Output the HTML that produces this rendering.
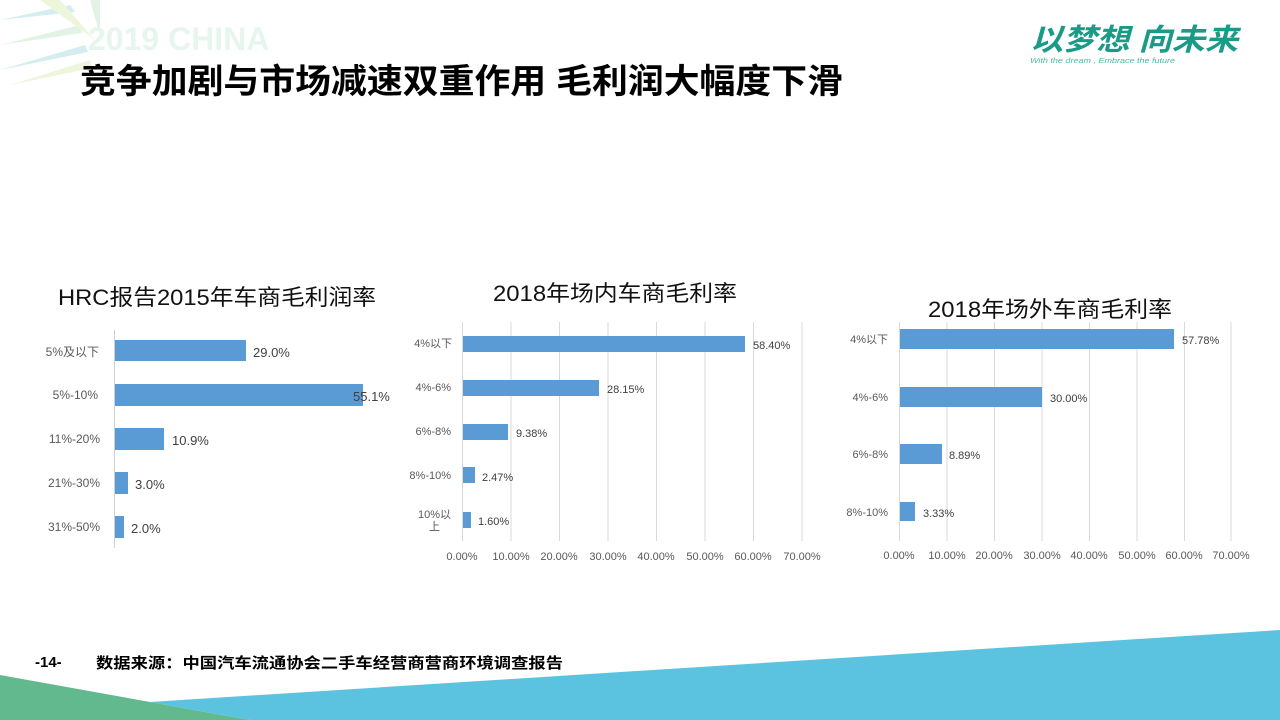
<!DOCTYPE html>
<html><head><meta charset="utf-8"><style>
html,body{margin:0;padding:0;background:#fff;}
svg{display:block;font-family:"Liberation Sans","Noto Sans CJK SC",sans-serif;}
</style></head><body>
<svg width="1280" height="720" viewBox="0 0 1280 720" xmlns="http://www.w3.org/2000/svg">
<g opacity="0.45">
<polygon points="0,20 70,5 75,12" fill="#9fd8e0"/>
<polygon points="0,45 80,25 82,33" fill="#bfe6c8"/>
<polygon points="0,70 85,45 88,52" fill="#9fd8e0"/>
<polygon points="10,85 90,60 92,68" fill="#d8ecb0"/>
<polygon points="40,0 60,0 95,40" fill="#d8ecb0"/>
<polygon points="90,0 100,0 100,35" fill="#bfe6c8"/>
</g>
<text x="88" y="50" font-size="32" font-weight="bold" fill="#e6f6ee">2019 CHINA</text>
<text x="80" y="93" font-size="34" font-weight="bold" fill="#000" textLength="763" lengthAdjust="spacingAndGlyphs">竞争加剧与市场减速双重作用 毛利润大幅度下滑</text>
<text x="1030" y="50" font-size="30" font-weight="bold" font-style="italic" fill="#1a9b88" textLength="208" lengthAdjust="spacingAndGlyphs">以梦想 向未来</text>
<text x="1030" y="63" font-size="7" font-style="italic" fill="#4cb8a0" textLength="145" lengthAdjust="spacingAndGlyphs">With the dream , Embrace the future</text>

<!-- Chart 1 -->
<text x="58" y="305" font-size="22" fill="#111" textLength="318" lengthAdjust="spacingAndGlyphs">HRC报告2015年车商毛利润率</text>
<line x1="114.5" y1="330" x2="114.5" y2="548" stroke="#d0d0d0"/>
<g fill="#5b9bd5">
<rect x="115" y="340" width="131" height="21"/>
<rect x="115" y="384" width="248" height="22"/>
<rect x="115" y="428" width="49" height="22"/>
<rect x="115" y="472" width="13" height="22"/>
<rect x="115" y="516" width="9" height="22"/>
</g>
<g font-size="12" fill="#595959" text-anchor="end">
<text x="99" y="356">5%及以下</text>
<text x="98" y="399">5%-10%</text>
<text x="100" y="443">11%-20%</text>
<text x="100" y="487">21%-30%</text>
<text x="100" y="531">31%-50%</text>
</g>
<g font-size="13" fill="#404040">
<text x="253" y="357">29.0%</text>
<text x="353" y="401">55.1%</text>
<text x="172" y="445">10.9%</text>
<text x="135" y="489">3.0%</text>
<text x="131" y="533">2.0%</text>
</g>

<!-- Chart 2 -->
<text x="493" y="301" font-size="22" fill="#111" textLength="244" lengthAdjust="spacingAndGlyphs">2018年场内车商毛利率</text>
<g stroke="#d9d9d9">
<line x1="462.5" y1="322" x2="462.5" y2="541"/>
<line x1="511" y1="322" x2="511" y2="541"/>
<line x1="559.5" y1="322" x2="559.5" y2="541"/>
<line x1="608" y1="322" x2="608" y2="541"/>
<line x1="656.5" y1="322" x2="656.5" y2="541"/>
<line x1="705" y1="322" x2="705" y2="541"/>
<line x1="753.5" y1="322" x2="753.5" y2="541"/>
<line x1="802" y1="322" x2="802" y2="541"/>
</g>
<g fill="#5b9bd5">
<rect x="463" y="336" width="282" height="16"/>
<rect x="463" y="380" width="136" height="16"/>
<rect x="463" y="424" width="45" height="16"/>
<rect x="463" y="467" width="12" height="16"/>
<rect x="463" y="512" width="8" height="16"/>
</g>
<g font-size="11" fill="#595959" text-anchor="end">
<text x="452" y="347">4%以下</text>
<text x="451" y="391">4%-6%</text>
<text x="451" y="435">6%-8%</text>
<text x="451" y="479">8%-10%</text>
<text x="451" y="518">10%以</text>
<text x="440" y="530">上</text>
</g>
<g font-size="11" fill="#404040">
<text x="753" y="349">58.40%</text>
<text x="607" y="393">28.15%</text>
<text x="516" y="437">9.38%</text>
<text x="482" y="481">2.47%</text>
<text x="478" y="525">1.60%</text>
</g>
<g font-size="11" fill="#595959" text-anchor="middle">
<text x="462" y="560">0.00%</text><text x="511" y="560">10.00%</text><text x="559" y="560">20.00%</text><text x="608" y="560">30.00%</text><text x="656" y="560">40.00%</text><text x="705" y="560">50.00%</text><text x="753" y="560">60.00%</text><text x="802" y="560">70.00%</text>
</g>

<!-- Chart 3 -->
<text x="928" y="317" font-size="22" fill="#111" textLength="244" lengthAdjust="spacingAndGlyphs">2018年场外车商毛利率</text>
<g stroke="#d9d9d9">
<line x1="899.5" y1="322" x2="899.5" y2="541"/>
<line x1="947" y1="322" x2="947" y2="541"/>
<line x1="994.5" y1="322" x2="994.5" y2="541"/>
<line x1="1042" y1="322" x2="1042" y2="541"/>
<line x1="1089.5" y1="322" x2="1089.5" y2="541"/>
<line x1="1137" y1="322" x2="1137" y2="541"/>
<line x1="1184.5" y1="322" x2="1184.5" y2="541"/>
<line x1="1231" y1="322" x2="1231" y2="541"/>
</g>
<g fill="#5b9bd5">
<rect x="900" y="329" width="274" height="20"/>
<rect x="900" y="387" width="142" height="20"/>
<rect x="900" y="444" width="42" height="20"/>
<rect x="900" y="502" width="15" height="19"/>
</g>
<g font-size="11" fill="#595959" text-anchor="end">
<text x="888" y="343">4%以下</text>
<text x="888" y="401">4%-6%</text>
<text x="888" y="458">6%-8%</text>
<text x="888" y="516">8%-10%</text>
</g>
<g font-size="11" fill="#404040">
<text x="1182" y="344">57.78%</text>
<text x="1050" y="402">30.00%</text>
<text x="949" y="459">8.89%</text>
<text x="923" y="517">3.33%</text>
</g>
<g font-size="11" fill="#595959" text-anchor="middle">
<text x="899" y="559">0.00%</text><text x="947" y="559">10.00%</text><text x="994" y="559">20.00%</text><text x="1042" y="559">30.00%</text><text x="1089" y="559">40.00%</text><text x="1137" y="559">50.00%</text><text x="1184" y="559">60.00%</text><text x="1231" y="559">70.00%</text>
</g>

<polygon points="0,675 150,702 250,720 0,720" fill="#62b98e"/>
<polygon points="150,702 1280,630 1280,720 250,720" fill="#5bc3e0"/>
<text x="35" y="667" font-size="15" font-weight="bold" fill="#000">-14-</text>
<text x="96" y="668" font-size="15" font-weight="bold" fill="#000" textLength="467" lengthAdjust="spacingAndGlyphs">数据来源：中国汽车流通协会二手车经营商营商环境调查报告</text>
</svg>
</body></html>
